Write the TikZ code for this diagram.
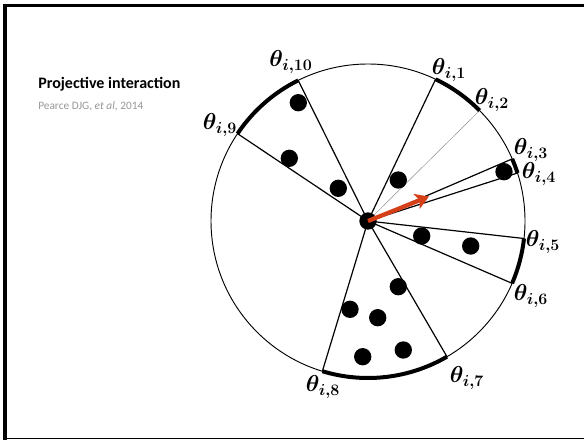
\documentclass[tikz,border=0pt]{standalone}
\usepackage{fontspec}
\newfontfamily\carlito{Carlito}
\usetikzlibrary{arrows.meta}
\definecolor{arrowred}{RGB}{214,64,24}
\definecolor{citegray}{RGB}{150,150,150}
\begin{document}
\begin{tikzpicture}[x=0.75pt,y=0.75pt,
  frameline/.style={line width=2.3pt,black},
  ray/.style={line width=0.9pt,black},
  faintray/.style={line width=0.35pt,black!45},
  rim/.style={line width=0.7pt,black},
  thickarc/.style={line width=3pt,black},
  agent/.style={circle,fill=black,inner sep=0pt,minimum size=13pt},
  lbl/.style={inner sep=0pt,font=\fontsize{17.5}{21}\selectfont\boldmath},
  heading/.style={anchor=base west,inner sep=0pt,font=\carlito\bfseries\fontsize{12}{14}\selectfont},
  cite/.style={anchor=base west,inner sep=0pt,text=citegray,font=\carlito\fontsize{8.5}{10}\selectfont},
  heading arrow/.style={line width=3.2pt,arrowred,-{Stealth[length=10pt,width=12pt,inset=2.5pt]}}]
\useasboundingbox (0,0) rectangle (584,440);
% slide frame
\draw[frameline] (3.5,434.6) -- (584,434.6);
\draw[frameline] (5,436) -- (5,0);
\draw[line width=0.8pt] (5,1.5) -- (584,1.5);
% title
\node[heading] (title) at (38,352) {Projective interaction};
\node[cite] (ref) at (38,330) {Pearce DJG, \textit{et al}, 2014};
% circle
\coordinate (O) at (368,219);
\draw[rim] (O) circle[radius=157];
% ray end points
\coordinate (p1) at ([shift={(O)}]64.5:157);
\coordinate (p2) at ([shift={(O)}]44.7:157);
\coordinate (p3) at ([shift={(O)}]23.3:157);
\coordinate (p4) at ([shift={(O)}]17.8:157);
\coordinate (p5) at ([shift={(O)}]-6.4:157);
\coordinate (p6) at ([shift={(O)}]-23.4:157);
\coordinate (p7) at ([shift={(O)}]-59.8:157);
\coordinate (p8) at ([shift={(O)}]-106.9:157);
\coordinate (p9) at ([shift={(O)}]146.2:157);
\coordinate (p10) at ([shift={(O)}]116.4:157);
% rays
\foreach \k in {1,3,4,5,6,7,8,9,10} \draw[ray] (O) -- (p\k);
\draw[faintray] (O) -- (p2);
% thick arcs
\draw[thickarc] (p1) arc[start angle=64.5,end angle=44.7,radius=157];
\draw[thickarc] (p3) arc[start angle=23.3,end angle=17.8,radius=157];
\draw[thickarc] (p5) arc[start angle=-6.4,end angle=-23.4,radius=157];
\draw[thickarc] (p7) arc[start angle=-59.8,end angle=-106.9,radius=157];
\draw[thickarc] (p9) arc[start angle=146.2,end angle=116.4,radius=157];
% neighbours
\foreach \n/\x/\y in {a/298.3/337.3, b/289.3/281.7, c/338.3/251.7, d/398.3/260,
  e/504/268.3, f/421.7/204, g/470.7/194, h/398.3/153.3, i/350/130.7,
  j/377.7/122.3, k/362.7/83.3, l/403.3/90}
  \node[agent] (n\n) at (\x,\y) {};
% focal agent and heading
\node[agent] (focal) at (O) {};
\coordinate (tip) at (429,243.5);
\draw[heading arrow] (focal.center) -- (tip);
% labels
\node[lbl] (t1) at (449,370) {$\theta_{i,1}$};
\node[lbl] (t2) at (492,340) {$\theta_{i,2}$};
\node[lbl] (t3) at (531,290) {$\theta_{i,3}$};
\node[lbl] (t4) at (539,266) {$\theta_{i,4}$};
\node[lbl] (t5) at (543,198) {$\theta_{i,5}$};
\node[lbl] (t6) at (531,144) {$\theta_{i,6}$};
\node[lbl] (t7) at (467,62) {$\theta_{i,7}$};
\node[lbl] (t8) at (323,53) {$\theta_{i,8}$};
\node[lbl] (t9) at (220,315) {$\theta_{i,9}$};
\node[lbl] (t10) at (291,378) {$\theta_{i,10}$};
\end{tikzpicture}
\end{document}
